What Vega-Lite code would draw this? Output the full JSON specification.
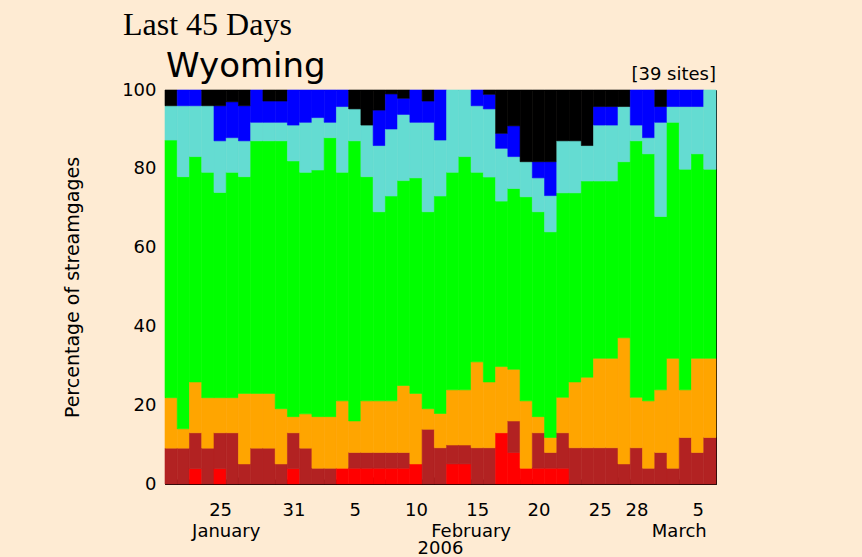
{
  "$schema": "https://vega.github.io/schema/vega-lite/v6.json",
  "width": 551,
  "height": 394,
  "autosize": {"type": "none"},
  "padding": {"left": 165, "top": 90, "right": 146, "bottom": 73},
  "background": "#FEEBD3",
  "config": {
    "view": {"stroke": "#000000", "strokeWidth": 1},
    "axis": {
      "labelFont": "DejaVu Sans",
      "labelFontSize": 18,
      "labelColor": "#000000",
      "titleFont": "DejaVu Sans",
      "titleFontSize": 19,
      "titleFontWeight": "normal",
      "titleColor": "#000000",
      "tickColor": "#000000",
      "tickWidth": 1,
      "domain": false,
      "grid": false,
      "zindex": 1
    }
  },
  "datasets": {
    "days": [
      {"date": "2006-01-21", "low": 0, "much_below": 9.1, "below": 12.8, "normal": 65.4, "above": 8.7, "much_above": 0, "high": 4.0},
      {"date": "2006-01-22", "low": 0, "much_below": 9.1, "below": 4.9, "normal": 64.0, "above": 18.0, "much_above": 4.0, "high": 0},
      {"date": "2006-01-23", "low": 3.9, "much_below": 9.1, "below": 12.9, "normal": 57.2, "above": 12.9, "much_above": 4.0, "high": 0},
      {"date": "2006-01-24", "low": 0, "much_below": 9.1, "below": 12.8, "normal": 57.2, "above": 16.9, "much_above": 0, "high": 4.0},
      {"date": "2006-01-25", "low": 3.9, "much_below": 9.1, "below": 8.9, "normal": 52.1, "above": 13.1, "much_above": 8.9, "high": 4.0},
      {"date": "2006-01-26", "low": 0, "much_below": 13.0, "below": 8.9, "normal": 57.2, "above": 8.8, "much_above": 9.1, "high": 3.0},
      {"date": "2006-01-27", "low": 0, "much_below": 5.1, "below": 17.9, "normal": 55.0, "above": 9.1, "much_above": 8.9, "high": 4.0},
      {"date": "2006-01-28", "low": 0, "much_below": 9.1, "below": 13.9, "normal": 64.1, "above": 4.7, "much_above": 8.2, "high": 0},
      {"date": "2006-01-29", "low": 0, "much_below": 9.1, "below": 13.9, "normal": 64.1, "above": 4.7, "much_above": 5.4, "high": 2.8},
      {"date": "2006-01-30", "low": 0, "much_below": 5.1, "below": 14.0, "normal": 68.0, "above": 4.7, "much_above": 5.4, "high": 2.8},
      {"date": "2006-01-31", "low": 3.9, "much_below": 9.1, "below": 4.1, "normal": 64.9, "above": 9.1, "much_above": 8.9, "high": 0},
      {"date": "2006-02-01", "low": 0, "much_below": 9.1, "below": 8.7, "normal": 61.3, "above": 12.7, "much_above": 8.2, "high": 0},
      {"date": "2006-02-02", "low": 0, "much_below": 4.0, "below": 13.1, "normal": 62.6, "above": 13.3, "much_above": 7.0, "high": 0},
      {"date": "2006-02-03", "low": 0, "much_below": 4.0, "below": 13.1, "normal": 70.8, "above": 3.9, "much_above": 8.2, "high": 0},
      {"date": "2006-02-04", "low": 4.0, "much_below": 0, "below": 17.1, "normal": 58.0, "above": 16.7, "much_above": 4.2, "high": 0},
      {"date": "2006-02-05", "low": 4.0, "much_below": 4.0, "below": 8.0, "normal": 71.1, "above": 8.1, "much_above": 0, "high": 4.8},
      {"date": "2006-02-06", "low": 4.0, "much_below": 4.0, "below": 13.1, "normal": 56.9, "above": 13.1, "much_above": 0, "high": 8.9},
      {"date": "2006-02-07", "low": 4.0, "much_below": 4.0, "below": 13.1, "normal": 48.0, "above": 16.8, "much_above": 9.0, "high": 5.1},
      {"date": "2006-02-08", "low": 4.0, "much_below": 4.0, "below": 13.1, "normal": 52.0, "above": 17.0, "much_above": 8.9, "high": 1.0},
      {"date": "2006-02-09", "low": 4.0, "much_below": 4.0, "below": 17.0, "normal": 52.0, "above": 16.8, "much_above": 4.1, "high": 2.1},
      {"date": "2006-02-10", "low": 5.1, "much_below": 0, "below": 17.9, "normal": 54.7, "above": 14.1, "much_above": 8.2, "high": 0},
      {"date": "2006-02-11", "low": 0, "much_below": 13.9, "below": 5.2, "normal": 50.0, "above": 22.7, "much_above": 5.4, "high": 2.8},
      {"date": "2006-02-12", "low": 0, "much_below": 9.2, "below": 8.7, "normal": 55.2, "above": 14.2, "much_above": 12.7, "high": 0},
      {"date": "2006-02-13", "low": 5.1, "much_below": 4.8, "below": 14.0, "normal": 55.2, "above": 20.9, "much_above": 0, "high": 0},
      {"date": "2006-02-14", "low": 5.1, "much_below": 4.8, "below": 14.0, "normal": 59.2, "above": 16.9, "much_above": 0, "high": 0},
      {"date": "2006-02-15", "low": 0, "much_below": 9.2, "below": 21.8, "normal": 48.1, "above": 16.9, "much_above": 4.0, "high": 0},
      {"date": "2006-02-16", "low": 0, "much_below": 9.2, "below": 16.7, "normal": 52.0, "above": 17.3, "much_above": 3.7, "high": 1.1},
      {"date": "2006-02-17", "low": 13.0, "much_below": 0, "below": 16.8, "normal": 42.0, "above": 13.4, "much_above": 3.8, "high": 11.0},
      {"date": "2006-02-18", "low": 8.0, "much_below": 8.0, "below": 13.1, "normal": 45.9, "above": 8.1, "much_above": 7.8, "high": 9.1},
      {"date": "2006-02-19", "low": 4.0, "much_below": 0, "below": 17.1, "normal": 51.8, "above": 8.9, "much_above": 0, "high": 18.2},
      {"date": "2006-02-20", "low": 4.0, "much_below": 9.0, "below": 4.1, "normal": 52.0, "above": 8.6, "much_above": 4.1, "high": 18.2},
      {"date": "2006-02-21", "low": 4.0, "much_below": 4.0, "below": 3.8, "normal": 52.2, "above": 9.2, "much_above": 8.6, "high": 18.2},
      {"date": "2006-02-22", "low": 4.0, "much_below": 9.0, "below": 9.0, "normal": 51.9, "above": 13.2, "much_above": 0, "high": 12.9},
      {"date": "2006-02-23", "low": 0, "much_below": 9.2, "below": 16.7, "normal": 48.0, "above": 13.2, "much_above": 0, "high": 12.9},
      {"date": "2006-02-24", "low": 0, "much_below": 9.2, "below": 17.9, "normal": 49.8, "above": 9.0, "much_above": 0, "high": 14.1},
      {"date": "2006-02-25", "low": 0, "much_below": 9.2, "below": 22.7, "normal": 45.0, "above": 14.2, "much_above": 4.7, "high": 4.2},
      {"date": "2006-02-26", "low": 0, "much_below": 9.2, "below": 22.7, "normal": 45.0, "above": 14.2, "much_above": 4.7, "high": 4.2},
      {"date": "2006-02-27", "low": 0, "much_below": 5.1, "below": 32.0, "normal": 44.7, "above": 14.0, "much_above": 0, "high": 4.2},
      {"date": "2006-02-28", "low": 0, "much_below": 9.2, "below": 12.8, "normal": 65.1, "above": 4.0, "much_above": 8.9, "high": 0},
      {"date": "2006-03-01", "low": 0, "much_below": 4.0, "below": 17.1, "normal": 62.7, "above": 4.1, "much_above": 12.1, "high": 0},
      {"date": "2006-03-02", "low": 0, "much_below": 8.0, "below": 15.9, "normal": 44.0, "above": 23.9, "much_above": 4.0, "high": 4.2},
      {"date": "2006-03-03", "low": 0, "much_below": 4.0, "below": 27.9, "normal": 59.9, "above": 4.0, "much_above": 4.2, "high": 0},
      {"date": "2006-03-04", "low": 0, "much_below": 11.8, "below": 12.1, "normal": 56.0, "above": 15.9, "much_above": 4.2, "high": 0},
      {"date": "2006-03-05", "low": 0, "much_below": 8.0, "below": 23.9, "normal": 51.9, "above": 12.0, "much_above": 4.2, "high": 0},
      {"date": "2006-03-06", "low": 0, "much_below": 11.8, "below": 20.1, "normal": 48.0, "above": 20.1, "much_above": 0, "high": 0}
    ],
    "categories": [
      {"category": "low", "rank": 1},
      {"category": "much_below", "rank": 2},
      {"category": "below", "rank": 3},
      {"category": "normal", "rank": 4},
      {"category": "above", "rank": 5},
      {"category": "much_above", "rank": 6},
      {"category": "high", "rank": 7}
    ],
    "months": [
      {"label": "January", "date": "2006-01-25"},
      {"label": "February", "date": "2006-02-14"},
      {"label": "March", "date": "2006-03-03"}
    ]
  },
  "layer": [
    {
      "data": {"name": "days"},
      "transform": [
        {"fold": ["low", "much_below", "below", "normal", "above", "much_above", "high"], "as": ["category", "percent"]},
        {"filter": "datum.percent > 0"},
        {"lookup": "category", "from": {"data": {"name": "categories"}, "key": "category", "fields": ["rank"]}}
      ],
      "mark": {"type": "bar", "strokeWidth": 0.6},
      "encoding": {
        "x": {
          "field": "date",
          "type": "ordinal",
          "title": null,
          "scale": {"paddingInner": 0, "paddingOuter": 0},
          "axis": {
            "labelAngle": 0,
            "tickBand": "extent",
            "labelPadding": 22,
            "labelOverlap": false,
            "labelExpr": "indexof(['2006-01-25','2006-01-31','2006-02-05','2006-02-10','2006-02-15','2006-02-20','2006-02-25','2006-02-28','2006-03-05'], datum.value) >= 0 ? '' + toNumber(substring(datum.value, 8, 10)) : ''",
            "tickSize": {
              "condition": {"test": "indexof(['2006-01-26','2006-02-01','2006-02-06','2006-02-11','2006-02-16','2006-02-21','2006-02-26','2006-03-01','2006-03-06'], datum.value) >= 0", "value": -7},
              "value": -5
            }
          }
        },
        "y": {
          "field": "percent",
          "type": "quantitative",
          "stack": "zero",
          "title": "Percentage of streamgages",
          "scale": {"domain": [0, 100], "nice": false},
          "axis": {
            "values": [0, 5, 10, 15, 20, 25, 30, 35, 40, 45, 50, 55, 60, 65, 70, 75, 80, 85, 90, 95, 100],
            "labelExpr": "datum.value % 10 == 0 ? datum.label : ''",
            "labelPadding": 19,
            "titlePadding": 39,
            "tickSize": {"condition": {"test": "datum.value % 10 == 0", "value": -10}, "value": -6}
          }
        },
        "order": {"field": "rank", "type": "quantitative", "sort": "ascending"},
        "color": {
          "field": "category",
          "type": "nominal",
          "scale": {
            "domain": ["low", "much_below", "below", "normal", "above", "much_above", "high"],
            "range": ["#FF0000", "#B22222", "#FFA500", "#00FF00", "#64DCD2", "#0000FF", "#000000"]
          },
          "legend": null
        },
        "stroke": {
          "field": "category",
          "type": "nominal",
          "scale": {
            "domain": ["low", "much_below", "below", "normal", "above", "much_above", "high"],
            "range": ["#FF0000", "#B22222", "#FFA500", "#00FF00", "#64DCD2", "#0000FF", "#000000"]
          },
          "legend": null
        }
      }
    },
    {
      "data": {"values": [{"text": "Wyoming"}]},
      "mark": {"type": "text", "font": "DejaVu Sans", "fontSize": 34, "align": "left", "baseline": "alphabetic", "dx": 1, "dy": -13, "color": "#000000"},
      "encoding": {
        "x": {"datum": "2006-01-21", "type": "ordinal", "bandPosition": 0},
        "y": {"datum": 100, "type": "quantitative"},
        "text": {"field": "text"}
      }
    },
    {
      "data": {"values": [{"text": "[39 sites]"}]},
      "mark": {"type": "text", "font": "DejaVu Sans", "fontSize": 18, "align": "right", "baseline": "alphabetic", "dx": 0, "dy": -10, "color": "#000000"},
      "encoding": {
        "x": {"datum": "2006-03-06", "type": "ordinal", "bandPosition": 1},
        "y": {"datum": 100, "type": "quantitative"},
        "text": {"field": "text"}
      }
    },
    {
      "data": {"values": [{"text": "Last 45 Days"}]},
      "mark": {"type": "text", "font": "Liberation Serif", "fontSize": 32, "align": "left", "baseline": "alphabetic", "dx": -42, "dy": -55, "color": "#000000"},
      "encoding": {
        "x": {"datum": "2006-01-21", "type": "ordinal", "bandPosition": 0},
        "y": {"datum": 100, "type": "quantitative"},
        "text": {"field": "text"}
      }
    },
    {
      "data": {"name": "months"},
      "mark": {"type": "text", "font": "DejaVu Sans", "fontSize": 18, "align": "center", "baseline": "alphabetic", "dy": 53, "color": "#000000"},
      "encoding": {
        "x": {"field": "date", "type": "ordinal", "bandPosition": 1},
        "y": {"datum": 0, "type": "quantitative"},
        "text": {"field": "label"}
      }
    },
    {
      "data": {"values": [{"text": "2006", "date": "2006-02-12"}]},
      "mark": {"type": "text", "font": "DejaVu Sans", "fontSize": 18, "align": "center", "baseline": "alphabetic", "dy": 70, "color": "#000000"},
      "encoding": {
        "x": {"field": "date", "type": "ordinal", "bandPosition": 0.5},
        "y": {"datum": 0, "type": "quantitative"},
        "text": {"field": "text"}
      }
    }
  ]
}
